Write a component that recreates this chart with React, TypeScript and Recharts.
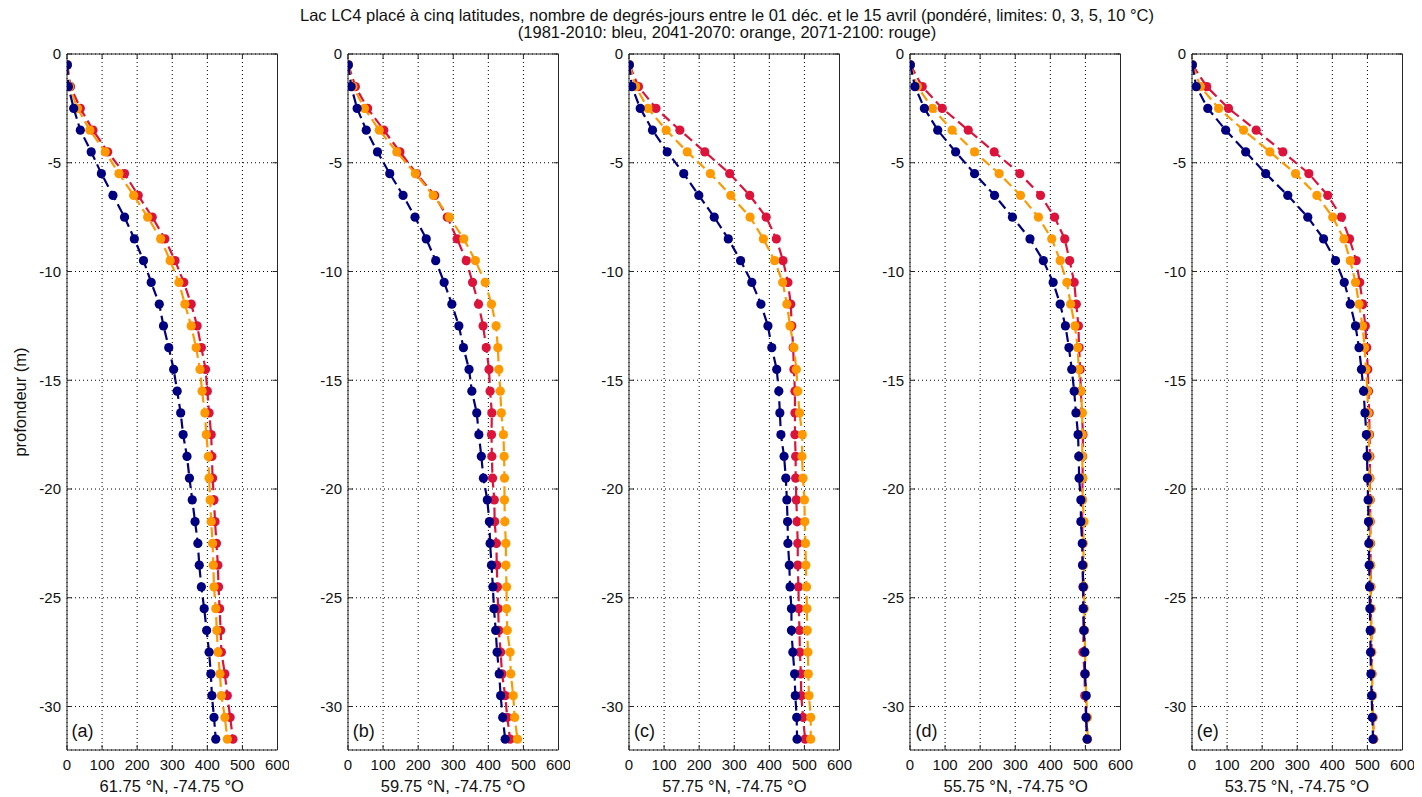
import React from 'react';
import { ScatterChart, Scatter, XAxis, YAxis, CartesianGrid, ReferenceArea } from 'recharts';

// profondeurs (m), une valeur par couche
const DEPTHS = [
  -0.5, -1.5, -2.5, -3.5, -4.5, -5.5, -6.5, -7.5, -8.5, -9.5, -10.5, -11.5, -12.5, -13.5, -14.5, -15.5,
  -16.5, -17.5, -18.5, -19.5, -20.5, -21.5, -22.5, -23.5, -24.5, -25.5, -26.5, -27.5, -28.5, -29.5, -30.5, -31.5,
];

const X_TICKS = [0, 100, 200, 300, 400, 500, 600];
const Y_TICKS = [0, -5, -10, -15, -20, -25, -30];

// (a) 61.75 N
const blueA = [1, 4, 19, 38, 69, 98, 131, 164, 192, 218, 240, 263, 275, 290, 304, 314, 324, 331, 342, 349, 357, 365, 373, 377, 383, 391, 398, 405, 410, 413, 419, 424];
const orangeA = [1, 7, 30, 65, 109, 148, 190, 230, 267, 294, 319, 336, 354, 368, 379, 385, 393, 397, 403, 405, 408, 411, 415, 417, 419, 424, 427, 430, 436, 440, 450, 457];
const redA = [1, 10, 38, 74, 116, 164, 203, 243, 279, 308, 333, 354, 371, 383, 395, 400, 405, 411, 413, 415, 419, 422, 426, 430, 432, 435, 438, 440, 450, 457, 465, 473];

// (b) 59.75 N
const blueB = [1, 9, 26, 52, 84, 119, 157, 191, 223, 250, 274, 296, 316, 329, 345, 353, 367, 373, 380, 386, 397, 403, 405, 409, 413, 416, 421, 425, 431, 435, 441, 448];
const orangeB = [1, 14, 47, 89, 139, 192, 243, 289, 330, 363, 391, 409, 422, 427, 430, 434, 437, 443, 445, 446, 446, 447, 450, 450, 452, 452, 454, 462, 464, 471, 475, 483];
const redB = [1, 21, 56, 102, 148, 195, 247, 283, 311, 337, 355, 372, 385, 394, 402, 405, 410, 409, 410, 412, 417, 418, 423, 424, 426, 428, 430, 435, 439, 448, 454, 462];

// (c) 57.75 N
const blueC = [1, 8, 32, 67, 109, 156, 199, 243, 283, 318, 350, 376, 396, 407, 421, 427, 430, 433, 442, 447, 450, 452, 453, 457, 459, 463, 463, 467, 472, 474, 478, 479];
const orangeC = [1, 19, 54, 106, 166, 232, 290, 345, 383, 415, 438, 450, 459, 470, 477, 481, 486, 494, 493, 496, 500, 501, 503, 504, 506, 507, 508, 510, 511, 513, 518, 518];
const redC = [1, 27, 77, 145, 216, 287, 344, 391, 420, 439, 453, 461, 464, 468, 470, 473, 473, 473, 475, 475, 477, 479, 481, 481, 483, 484, 486, 487, 490, 491, 496, 502];

// (d) 55.75 N
const blueD = [1, 14, 41, 79, 130, 184, 241, 292, 342, 380, 408, 428, 443, 453, 461, 468, 473, 479, 481, 482, 487, 487, 491, 492, 494, 494, 496, 498, 499, 502, 502, 505];
const orangeD = [1, 21, 64, 120, 184, 254, 315, 366, 404, 428, 447, 458, 470, 478, 481, 487, 491, 491, 491, 492, 492, 496, 494, 495, 496, 497, 498, 499, 500, 502, 506, 506];
const redD = [1, 35, 92, 166, 240, 313, 372, 412, 441, 455, 468, 474, 480, 482, 485, 487, 490, 493, 492, 492, 491, 491, 492, 492, 493, 494, 495, 493, 498, 498, 502, 505];

// (e) 53.75 N
const blueE = [1, 12, 45, 96, 153, 210, 273, 330, 375, 409, 434, 451, 466, 476, 483, 489, 493, 497, 499, 500, 502, 503, 504, 505, 506, 507, 508, 509, 510, 512, 514, 516];
const orangeE = [1, 24, 76, 147, 222, 295, 356, 401, 433, 451, 466, 476, 486, 492, 496, 500, 502, 504, 505, 506, 507, 507, 508, 509, 509, 510, 511, 512, 513, 514, 516, 518];
const redE = [1, 42, 104, 183, 259, 333, 387, 426, 449, 468, 478, 487, 494, 498, 501, 503, 505, 506, 507, 507, 508, 508, 509, 509, 510, 510, 511, 512, 513, 514, 516, 518];

const PANELS = [
  { letter: '(a)', caption: '61.75 °N, -74.75 °O', blue: blueA, orange: orangeA, red: redA },
  { letter: '(b)', caption: '59.75 °N, -74.75 °O', blue: blueB, orange: orangeB, red: redB },
  { letter: '(c)', caption: '57.75 °N, -74.75 °O', blue: blueC, orange: orangeC, red: redC },
  { letter: '(d)', caption: '55.75 °N, -74.75 °O', blue: blueD, orange: orangeD, red: redD },
  { letter: '(e)', caption: '53.75 °N, -74.75 °O', blue: blueE, orange: orangeE, red: redE },
];

const NAVY = '#000080';
const ORANGE = '#ff9900';
const RED = '#dc143c';
const BOX = '#262626';
const INK = '#111';
const FONT = '"Liberation Sans", Arial, Helvetica, sans-serif';

const PLOT_W = 210.5;
const PLOT_H = 696;
const PLOT_TOP = 54;
const AXIS_W = 50;
const CHART_H = 797;
const X_GAP = 9;
const Y_GAP = 6;
const panelLeft = (i: number) => 66.5 + i * 281.3;

const toPoints = (values: number[]) => values.map((v, i) => ({ x: v, y: DEPTHS[i] }));

const XTick = (props: any) => {
  const { x, y, payload } = props;
  const base = y - X_GAP;
  return (
    <g>
      <line x1={x} x2={x} y1={base} y2={base - 5} stroke={BOX} />
      <line x1={x} x2={x} y1={base - PLOT_H} y2={base - PLOT_H + 5} stroke={BOX} />
      <text x={x} y={y} dy="0.71em" textAnchor="middle" fontSize={15} fill={INK} fontFamily={FONT}>
        {payload.value}
      </text>
    </g>
  );
};

const YTick = (props: any) => {
  const { x, y, payload } = props;
  const base = x + Y_GAP;
  return (
    <g>
      <line x1={base} x2={base + 5} y1={y} y2={y} stroke={BOX} />
      <line x1={base + PLOT_W} x2={base + PLOT_W - 5} y1={y} y2={y} stroke={BOX} />
      <text x={x} y={y} dy="0.355em" textAnchor="end" fontSize={15} fill={INK} fontFamily={FONT}>
        {payload.value}
      </text>
    </g>
  );
};

const dot = (color: string) => (props: any) => <circle cx={props.cx} cy={props.cy} r={4.6} fill={color} />;

const Panel = ({ panel, index }: { panel: (typeof PANELS)[number]; index: number }) => {
  const series = [
    { key: 'red', color: RED, values: panel.red },
    { key: 'orange', color: ORANGE, values: panel.orange },
    { key: 'blue', color: NAVY, values: panel.blue },
  ];
  return (
    <div style={{ position: 'absolute', left: panelLeft(index) - AXIS_W, top: 0 }}>
      <ScatterChart
        width={AXIS_W + PLOT_W + 12}
        height={CHART_H}
        margin={{ top: PLOT_TOP, right: 12, bottom: 0, left: 0 }}
      >
        <CartesianGrid stroke="#000" strokeDasharray="1 3" />
        <XAxis
          type="number"
          dataKey="x"
          domain={[0, 600]}
          ticks={X_TICKS}
          allowDataOverflow
          height={CHART_H - PLOT_TOP - PLOT_H}
          tickSize={0}
          tickMargin={X_GAP}
          tickLine={false}
          axisLine={false}
          tick={<XTick />}
          interval={0}
        />
        <YAxis
          type="number"
          dataKey="y"
          domain={[-32, 0]}
          ticks={Y_TICKS}
          allowDataOverflow
          width={AXIS_W}
          tickSize={0}
          tickMargin={Y_GAP}
          tickLine={false}
          axisLine={false}
          tick={<YTick />}
          interval={0}
        />
        <ReferenceArea x1={0} x2={600} y1={-32} y2={0} fill="none" fillOpacity={0} stroke={BOX} strokeWidth={1} ifOverflow="visible" />
        {series.map((s) => (
          <Scatter
            key={s.key}
            data={toPoints(s.values)}
            fill={s.color}
            line={{ stroke: s.color, strokeWidth: 2.2, strokeDasharray: '10 5' }}
            lineType="joint"
            shape={dot(s.color)}
            isAnimationActive={false}
          />
        ))}
      </ScatterChart>
    </div>
  );
};

export default function App() {
  return (
    <div style={{ position: 'absolute', left: 0, top: 0, width: 1422, height: 797, background: '#fff', overflow: 'hidden' }}>
      {PANELS.map((p, i) => (
        <Panel key={p.letter} panel={p} index={i} />
      ))}
      <svg width={1422} height={797} style={{ position: 'absolute', left: 0, top: 0, pointerEvents: 'none' }} fontFamily={FONT} fill={INK}>
        <text x={727} y={21} textAnchor="middle" fontSize={16.5}>
          Lac LC4 placé à cinq latitudes, nombre de degrés-jours entre le 01 déc. et le 15 avril (pondéré, limites: 0, 3, 5, 10 °C)
        </text>
        <text x={727} y={38} textAnchor="middle" fontSize={16.5}>
          (1981-2010: bleu, 2041-2070: orange, 2071-2100: rouge)
        </text>
        <text x={26} y={402} textAnchor="middle" fontSize={16.5} transform="rotate(-90 26 402)">
          profondeur (m)
        </text>
        {PANELS.map((p, i) => (
          <g key={p.letter}>
            <text x={panelLeft(i) + PLOT_W / 2} y={792} textAnchor="middle" fontSize={16.5}>
              {p.caption}
            </text>
            <text x={panelLeft(i) + 5} y={737} fontSize={18}>
              {p.letter}
            </text>
          </g>
        ))}
      </svg>
    </div>
  );
}
